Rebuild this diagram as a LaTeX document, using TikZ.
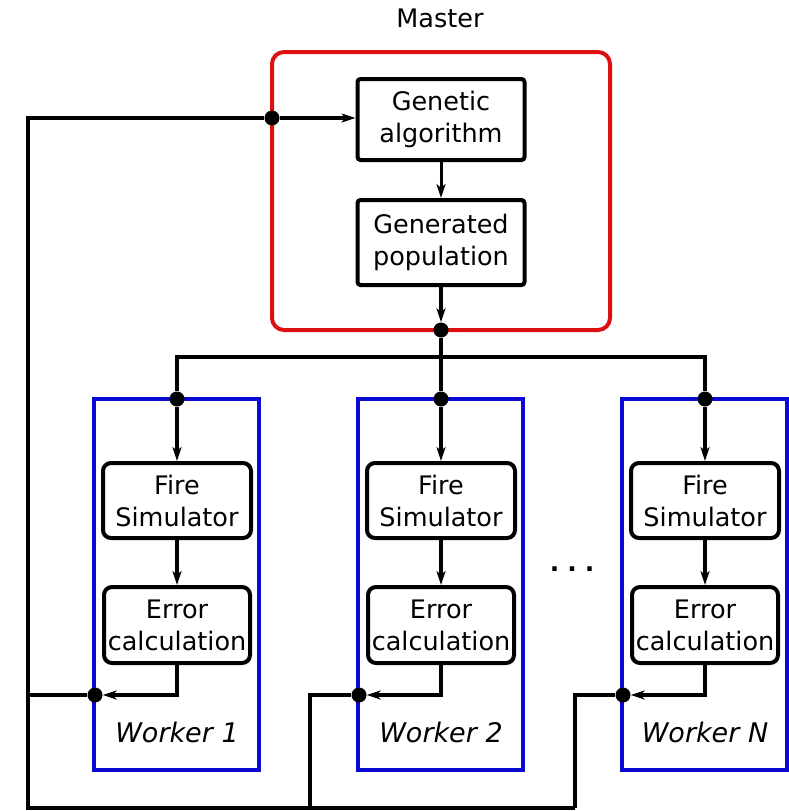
\documentclass[tikz,border=0pt]{standalone}
\usepackage{fontspec}
\setmainfont{DejaVu Sans}
\usetikzlibrary{arrows.meta}
\begin{document}
\begin{tikzpicture}[x=1pt,y=-1pt,
  txt/.style={font=\fontsize{25.5}{32}\selectfont},
  blk/.style={txt,draw=black,line width=4pt,rounded corners=3pt,align=center,inner sep=0pt},
  wblk/.style={txt,draw=black,line width=4pt,rounded corners=8pt,align=center,inner sep=0pt},
  dotn/.style={circle,fill=black,inner sep=0pt,minimum size=15pt},
  conn/.style={line width=3.5pt},
  tip/.style={-{Stealth[length=14pt,width=9pt,inset=4pt]}},
  arr/.style={line width=3.5pt,tip},
  master/.style={draw={rgb,255:red,220;green,16;blue,16},line width=4pt,rounded corners=12pt},
  worker/.style={draw={rgb,255:red,10;green,10;blue,210},line width=4pt}
]
\useasboundingbox (0,0) rectangle (789,811);

% Master
\draw[master] (272,52) rectangle (610,330);
\node[txt] (mlabel) at (440,18) {Master};
\node[blk,minimum width=167pt,minimum height=81pt] (ga) at (441,119.5) {Genetic\\algorithm};
\node[blk,minimum width=167pt,minimum height=85pt] (gp) at (441,242.5) {Generated\\population};

% Workers
\foreach \cx/\n in {177/1,441/2,705/N}{
  \draw[worker] (\cx-83,399) rectangle (\cx+82,770);
  \node[font=\fontsize{27}{32}\selectfont\itshape] (wl\n) at (\cx,732) {Worker \n};
  \node[wblk,minimum width=148pt,minimum height=75pt] (fs\n) at (\cx,500.5) {Fire\\Simulator};
  \node[wblk,minimum width=146pt,minimum height=76pt] (ec\n) at (\cx,625) {Error\\calculation};
  \node[dotn] (t\n) at (\cx,399) {};
  \node[dotn] (r\n) at (\cx-82,695) {};
  \coordinate (h\n) at (\cx,357);
}

% dots
\node[dotn] (din) at (272,118) {};
\node[dotn] (dout) at (441,330) {};

% master connections
\draw[arr] (din) -- (din -| ga.west);
\draw[line width=3pt,tip] (ga) -- (gp);
\draw[arr] (gp) -- (dout);
\draw[conn] (dout) -- (t2);
\draw[conn] (t1) -- (h1) -- (hN) -- (tN);

% worker connections
\foreach \n in {1,2,N}{
  \draw[arr] (t\n) -- (fs\n);
  \draw[arr] (fs\n) -- (ec\n);
  \draw[arr] (ec\n.south) |- (r\n);
}

% feedback loops
\coordinate (c1) at (28,118);
\coordinate (c2) at (28,808);
\coordinate (c3) at (575,808);
\draw[conn] (din) -- (c1) -- (c2) -- (c3);
\draw[conn] (r1) -- (28,695);
\draw[conn] (r2) -- (310,695) -- (310,808);
\draw[conn] (rN) -- (575,695) -- (c3);

% dots between workers
\node[font=\bfseries\fontsize{25}{32}\selectfont] (ell) at (572,569) {.\kern8pt.\kern8pt.};
\end{tikzpicture}
\end{document}
